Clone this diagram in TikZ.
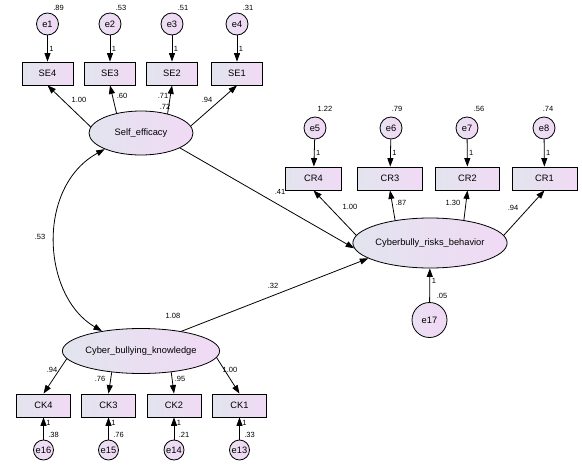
\documentclass[tikz,border=0pt]{standalone}
\usepackage{fontspec}
\setmainfont{Liberation Sans}
\usetikzlibrary{positioning, arrows.meta, shapes.geometric}
\definecolor{fillL}{RGB}{226, 228, 238}
\definecolor{fillR}{RGB}{241, 218, 245}
\definecolor{errL}{RGB}{234, 224, 242}
\definecolor{errR}{RGB}{240, 216, 244}

\begin{document}
\begin{tikzpicture}[x=1pt, y=-1pt, >={Triangle[length=8.5pt, width=6pt]}, line width=0.8pt,
  obsbox/.style={draw, left color=fillL, right color=fillR, minimum height=23pt, inner sep=0pt, font=\fontsize{9.3}{10}\selectfont},
  latent/.style={ellipse, draw, left color=fillL, right color=fillR, inner sep=0pt, font=\fontsize{9.3}{10}\selectfont},
  errnode/.style={circle, draw, left color=errL, right color=errR, inner sep=0pt, minimum size=22pt, font=\fontsize{9.3}{10}\selectfont},
  num/.style={inner sep=0pt, font=\fontsize{7.5}{8}\selectfont}]
  \fill[white] (0,0) rectangle (582,466);
  \useasboundingbox (0,0) rectangle (582,466);

  % Latent variables
  \node[latent, minimum width=104pt, minimum height=44pt] (se) at (141,133) {Self\_efficacy};
  \node[latent, minimum width=133pt, minimum height=50pt] (crb) at (430,243) {Cyberbully\_risks\_behavior};
  \node[latent, minimum width=140pt, minimum height=45pt] (cbk) at (141,351) {Cyber\_bullying\_knowledge};

  % Self efficacy indicators and their errors
  \foreach \e/\s/\x/\v in {1/4/47.5/.89, 2/3/110/.53, 3/2/172/.51, 4/1/237/.31} {
    \node[obsbox, minimum width=51pt] (SE\s) at (\x,73.5) {SE\s};
    \node[errnode] (e\e) at (\x,24) {e\e};
    \node[num] (ve\e) at ({\x+11},7.5) {\v};
    \draw[->] (e\e) -- (SE\s) node[num, midway, right=1.5pt] (one\e) {1};
  }

  % Risk behavior indicators and their errors
  \node[obsbox, minimum width=56pt] (CR4) at (313.5,178.5) {CR4};
  \node[obsbox, minimum width=65pt] (CR3) at (390,178.5) {CR3};
  \node[obsbox, minimum width=64pt] (CR2) at (467.5,178.5) {CR2};
  \node[obsbox, minimum width=65pt] (CR1) at (544.5,178.5) {CR1};
  \foreach \e/\s/\x/\v/\dx in {5/4/315/1.22/10, 6/3/391/.79/6, 7/2/467/.56/12, 8/1/544/.74/4} {
    \node[errnode] (e\e) at (\x,128) {e\e};
    \node[num] (ve\e) at ({\x+\dx},109) {\v};
    \draw[->] (e\e) -- (CR\s) node[num, midway, right=1.5pt] (one\e) {1};
  }

  % Knowledge indicators and their errors
  \foreach \e/\s/\x/\v in {16/4/43.5/.38, 15/3/108.5/.76, 14/2/174/.21, 13/1/239.5/.33} {
    \node[obsbox, minimum width=54pt] (CK\s) at (\x,405.5) {CK\s};
    \node[errnode, minimum size=20pt] (e\e) at (\x,450) {e\e};
    \node[num] (one\e) at ({\x+5},423) {1};
    \node[num] (ve\e) at ({\x+10},434.5) {\v};
    \draw[->] (e\e) -- (CK\s);
  }

  % Disturbance of risk behavior
  \node[errnode, minimum size=35pt] (e17) at (429.5,320) {e17};
  \draw[->] (e17) -- (crb);
  \node[num] (one17) at (434,281) {1};
  \node[num] (ve17) at (442,296) {.05};

  % Loadings
  \foreach \s/\a in {4/173, 3/141, 2/36, 1/8}
    \draw[->] (se.\a) -- (SE\s.south);
  \foreach \s/\a in {4/174, 3/147, 2/34, 1/6}
    \draw[->] (crb.\a) -- (CR\s.south);
  \foreach \s/\a in {4/186, 3/216, 2/325, 1/355}
    \draw[->] (cbk.\a) -- (CK\s.north);

  \node[num] (lse4) at (79,100) {1.00};
  \node[num] (lse3) at (122,96) {.60};
  \node[num] (lse2) at (163,96) {.71};
  \node[num] (vse) at (165,107) {.72};
  \node[num] (lse1) at (207,100) {.94};
  \node[num] (lcr4) at (350,207) {1.00};
  \node[num] (lcr3) at (401,203) {.87};
  \node[num] (lcr2) at (453,203) {1.30};
  \node[num] (lcr1) at (513,208) {.94};
  \node[num] (lck4) at (52,370) {.94};
  \node[num] (lck3) at (100,379) {.76};
  \node[num] (lck2) at (180,379) {.95};
  \node[num] (lck1) at (230,370) {1.00};

  % Structural paths
  \draw[->] (se.339) -- (crb.184);
  \node[num] (pse) at (280,192) {.41};
  \draw[->] (cbk.26) -- (crb.194);
  \node[num] (pck) at (273,286) {.32};
  \node[num] (vck) at (173,316) {1.08};

  % Covariance
  \draw[<->] (cbk.153) .. controls +(-60,-35) and +(-69,38) .. (se.204);
  \node[num] (cov) at (40,237) {.53};
\end{tikzpicture}
\end{document}
